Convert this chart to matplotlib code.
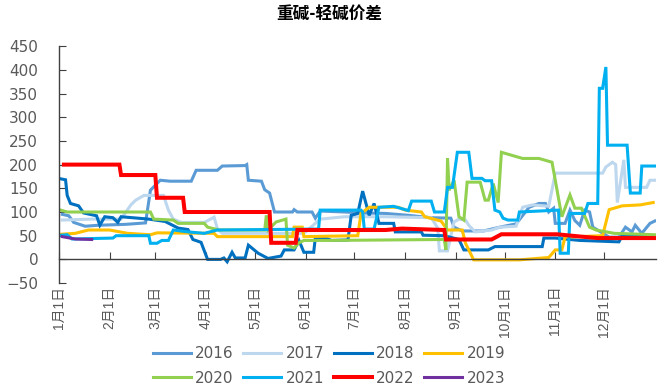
import matplotlib
matplotlib.use("Agg")
import matplotlib.pyplot as plt

# Day-of-year breakpoints and values (heavy soda ash minus light soda ash spread)
days_2016 = [2, 6, 9, 16, 24, 41, 53, 56, 62, 68, 81, 84, 97, 100, 114, 115, 116, 124, 126, 129, 132,
             143, 144, 146, 155, 157, 160, 175, 185, 200, 214, 228, 240, 242, 247, 260, 270, 280, 288,
             294, 298, 300, 303, 304, 310, 313, 316, 319, 322, 325, 327, 337, 343, 347, 351, 353, 357,
             362, 365]
vals_2016 = [95, 92, 78, 70, 72, 74, 77, 146, 167, 165, 165, 188, 188, 197, 198, 200, 167, 165, 147, 140, 100,
             100, 105, 100, 100, 87, 102, 100, 98, 97, 93, 88, 87, 68, 60, 60, 68, 75, 110,
             118, 118, 100, 108, 76, 76, 104, 82, 72, 104, 100, 68, 47, 47, 68, 58, 72, 55,
             76, 81]

days_2017 = [2, 20, 38, 44, 47, 52, 64, 67, 70, 75, 89, 95, 97, 100, 150, 160, 175, 200, 228, 232, 233,
             238, 242, 245, 249, 251, 255, 265, 270, 280, 284, 290, 300, 304, 333, 335, 339, 341, 342,
             346, 347, 360, 362, 366]
vals_2017 = [83, 85, 85, 115, 125, 135, 135, 104, 85, 78, 78, 89, 65, 55, 55, 85, 90, 90, 88, 66, 18,
             18, 79, 85, 83, 72, 58, 62, 68, 70, 110, 115, 112, 182, 182, 195, 205, 200, 120,
             210, 152, 152, 167, 167]

days_2018 = [1, 4, 5, 7, 12, 15, 23, 25, 28, 33, 36, 38, 55, 65, 73, 79, 82, 87, 91, 99, 101, 103, 106,
             108, 114, 116, 122, 128, 136, 138, 144, 147, 150, 156, 157, 163, 167, 177, 179, 183, 186,
             190, 193, 196, 205, 206, 222, 223, 236, 245, 248, 263, 267, 296, 297, 304, 319, 343, 345, 364]
vals_2018 = [170, 168, 135, 118, 113, 98, 92, 72, 90, 88, 78, 90, 85, 80, 66, 63, 42, 36, 0, 0, 3, -5, 15,
             3, 3, 30, 13, 2, 7, 20, 20, 40, 15, 15, 45, 45, 40, 41, 93, 97, 144,
             93, 118, 76, 76, 58, 58, 51, 50, 42, 20, 20, 27, 27, 45, 45, 40, 37, 50, 50]

days_2019 = [1, 10, 18, 31, 42, 56, 60, 95, 97, 143, 144, 149, 150, 183, 185, 190, 208, 212, 222, 224,
             234, 238, 247, 249, 254, 282, 300, 304, 308, 310, 333, 337, 345, 356, 364]
vals_2019 = [53, 55, 62, 62, 55, 52, 56, 55, 48, 48, 68, 68, 48, 50, 97, 110, 110, 104, 100, 90,
             81, 62, 62, 34, -1, -1, 4, 20, 20, 47, 50, 105, 113, 115, 120]

days_2020 = [1, 5, 56, 58, 70, 73, 89, 91, 98, 126, 127, 128, 133, 139, 140, 144, 147, 150, 167, 236,
             237, 238, 239, 242, 245, 248, 250, 258, 261, 263, 266, 269, 271, 284, 294, 302, 304, 308,
             313, 316, 320, 325, 329, 340, 365]
vals_2020 = [104, 100, 100, 85, 83, 76, 76, 68, 62, 62, 93, 62, 79, 85, 30, 24, 35, 40, 40, 42,
             20, 213, 146, 167, 90, 83, 163, 163, 125, 125, 160, 120, 226, 213, 213, 205, 167, 90,
             136, 108, 108, 68, 62, 55, 52]

days_2021 = [1, 5, 8, 33, 35, 55, 56, 60, 63, 67, 70, 79, 89, 97, 159, 160, 185, 186, 187, 193, 196,
             205, 214, 216, 228, 230, 236, 238, 241, 244, 251, 253, 259, 261, 265, 267, 270, 272, 275,
             281, 282, 306, 307, 312, 313, 322, 324, 330, 331, 333, 335, 336, 348, 350, 356, 357, 366]
vals_2021 = [51, 52, 43, 45, 50, 50, 34, 34, 40, 40, 62, 58, 55, 62, 64, 104, 104, 100, 64, 64, 110,
             112, 103, 123, 123, 100, 100, 152, 152, 226, 226, 171, 171, 166, 166, 104, 100, 87, 83,
             83, 100, 104, 13, 13, 97, 97, 118, 118, 361, 361, 406, 241, 241, 140, 140, 197, 197]

days_2022 = [3, 37, 38, 59, 60, 76, 77, 129, 130, 145, 146, 200, 210, 236, 237, 265, 271, 305, 320, 330, 365]
vals_2022 = [200, 200, 178, 178, 130, 130, 100, 100, 35, 35, 62, 62, 65, 62, 42, 42, 53, 53, 48, 45, 45]

days_2023 = [2, 10, 20]
vals_2023 = [48, 43, 42]

years = ["2016", "2017", "2018", "2019", "2020", "2021", "2022", "2023"]
colors = ["#5B9BD5", "#BDD7EE", "#0070C0", "#FFC000", "#92D050", "#00B0F0", "#FF0000", "#7030A0"]

month_starts = [0, 31, 59, 90, 120, 151, 181, 212, 243, 273, 304, 334]
month_labels = [f"{m}月1日" for m in range(1, 13)]


def main():
    plt.rcParams["font.family"] = ["DejaVu Sans", "Noto Sans CJK SC"]

    fig = plt.figure(figsize=(6.58, 3.91), dpi=100)
    ax = fig.add_axes([0.0897, 0.276, 0.908, 0.606])

    series = [
        (days_2016, vals_2016), (days_2017, vals_2017), (days_2018, vals_2018),
        (days_2019, vals_2019), (days_2020, vals_2020), (days_2021, vals_2021),
        (days_2022, vals_2022), (days_2023, vals_2023),
    ]
    handles = []
    for (d, v), name, c in zip(series, years, colors):
        lw = 2.9 if name == "2022" else 2.2
        h, = ax.plot(d, v, color=c, lw=lw, label=name, solid_joinstyle="miter")
        handles.append(h)

    ax.set_xlim(0, 366)
    ax.set_ylim(-50, 450)
    ax.set_yticks(range(-50, 451, 50))

    # x axis sits at zero, labels hang below the plot
    ax.spines["bottom"].set_position(("data", 0))
    ax.spines["top"].set_visible(False)
    ax.spines["right"].set_visible(False)
    for s in ["bottom", "left"]:
        ax.spines[s].set_color("#404040")
        ax.spines[s].set_linewidth(1.0)

    ax.set_xticks(month_starts)
    ax.set_xticklabels(month_labels, rotation=90, color="#595959", fontsize=10,
                       family=["Liberation Sans", "Noto Sans CJK SC"])
    ax.tick_params(axis="x", direction="in", length=5, pad=19, color="#404040")
    ax.tick_params(axis="y", direction="in", length=5, labelsize=11, labelcolor="#595959",
                   color="#404040", pad=15)

    fig.suptitle("重碱-轻碱价差", x=0.5, y=0.985, fontsize=12, fontweight="bold",
                 family=["Noto Sans CJK SC"])

    # legend is filled column by column, so interleave to get 2016..2019 on the first row
    order = [0, 4, 1, 5, 2, 6, 3, 7]
    fig.legend([handles[i] for i in order], [years[i] for i in order],
               loc="center", bbox_to_anchor=(0.5, 0.064), ncol=4, frameon=False,
               fontsize=11, labelcolor="#595959", handlelength=2.5, handletextpad=0.3,
               columnspacing=0.6, labelspacing=0.6)

    fig.savefig("out.png", dpi=100)


if __name__ == "__main__":
    main()
